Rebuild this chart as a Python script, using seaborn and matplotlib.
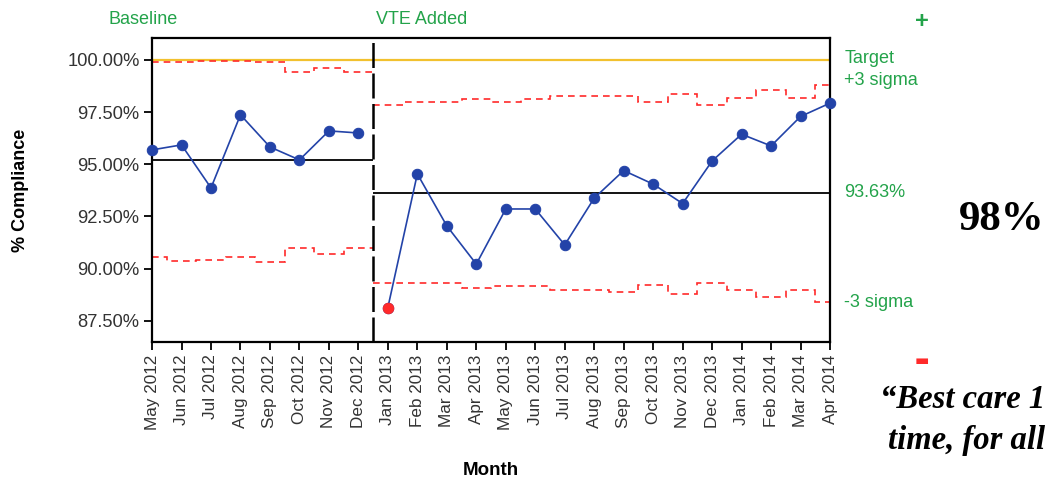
import numpy as np
import pandas as pd
import matplotlib
matplotlib.use("Agg")
import matplotlib.pyplot as plt
import matplotlib.transforms as mtransforms
import seaborn as sns

# data
months = ["May 2012", "Jun 2012", "Jul 2012", "Aug 2012", "Sep 2012", "Oct 2012",
          "Nov 2012", "Dec 2012", "Jan 2013", "Feb 2013", "Mar 2013", "Apr 2013",
          "May 2013", "Jun 2013", "Jul 2013", "Aug 2013", "Sep 2013", "Oct 2013",
          "Nov 2013", "Dec 2013", "Jan 2014", "Feb 2014", "Mar 2014", "Apr 2014"]

baseline_pct = [95.69, 95.93, 93.87, 97.37, 95.83, 95.21, 96.60, 96.50]
vte_pct = [88.14, 94.54, 92.05, 90.22, 92.86, 92.86, 91.14, 93.38,
           94.70, 94.05, 93.12, 95.16, 96.44, 95.88, 97.29, 97.93]

baseline_ucl = [99.89, 99.90, 99.93, 99.93, 99.90, 99.44, 99.60, 99.44]
baseline_lcl = [90.58, 90.36, 90.40, 90.55, 90.34, 90.98, 90.71, 90.98]
vte_ucl = [97.84, 98.00, 98.00, 98.12, 98.00, 98.12, 98.28, 98.28,
           98.28, 97.96, 98.36, 97.84, 98.17, 98.56, 98.19, 98.80]
vte_lcl = [89.31, 89.31, 89.31, 89.07, 89.18, 89.18, 88.98, 88.98,
           88.87, 89.22, 88.79, 89.31, 88.98, 88.66, 88.98, 88.40]

baseline_mean = 95.21
vte_mean = 93.63
target = 100.0

phases = ["Baseline", "VTE Added"]

BLUE = "#2343a8"
RED = "#ff2a2a"
GREEN = "#23a34a"
GOLD = "#f2c12e"

sns.set_style("white")
plt.rcParams["font.family"] = ["Liberation Sans", "DejaVu Sans"]

n_base = len(baseline_pct)
df = pd.DataFrame({
    "idx": np.arange(len(months)),
    "month": months,
    "pct": baseline_pct + vte_pct,
    "ucl": baseline_ucl + vte_ucl,
    "lcl": baseline_lcl + vte_lcl,
    "phase": [phases[0]] * n_base + [phases[1]] * len(vte_pct),
})
df["out"] = (df["pct"] < df["lcl"]) | (df["pct"] > df["ucl"])

fig = plt.figure(figsize=(10.5, 4.82), dpi=100)
ax = fig.add_axes([0.1448, 0.2905, 0.6457, 0.6307])

split = n_base - 0.5
last = len(months) - 1

# target line
ax.axhline(target, color=GOLD, lw=1.6, zorder=2)

# control limits as steps, per phase
for ph, start, end in [(phases[0], 0, split), (phases[1], split, last)]:
    sub = df[df["phase"] == ph]
    edges = np.concatenate([[start], sub["idx"].values[:-1] + 0.5, [end]])
    for col in ["ucl", "lcl"]:
        ax.stairs(sub[col].values, edges, baseline=None, color=RED,
                  lw=1.2, ls=(0, (4, 3)), zorder=2)

# centre lines
ax.hlines(baseline_mean, 0, split, color="black", lw=1.3, zorder=3)
ax.hlines(vte_mean, split, last, color="black", lw=1.3, zorder=3)

# phase divider
ax.axvline(split, color="black", lw=1.8, ls=(0, (10, 2.2)), zorder=4)

# compliance series
sns.lineplot(data=df, x="idx", y="pct", units="phase", estimator=None,
             color=BLUE, lw=1.2, marker="o", markersize=7.5,
             markeredgecolor=BLUE, ax=ax, clip_on=False, zorder=5)
sns.scatterplot(data=df[df["out"]], x="idx", y="pct", color=RED, s=58,
                edgecolor=RED, ax=ax, clip_on=False, zorder=6)

ax.set_xlim(0, last)
ax.set_ylim(86.49, 101.05)
yt = np.arange(87.5, 100.01, 2.5)
ax.set_yticks(yt)
ax.set_yticklabels([f"{v:.2f}%" for v in yt], fontsize=13.2, color="#333333")
ax.set_xticks(df["idx"])
ax.set_xticklabels(months, rotation=90, fontsize=12.3, color="#333333")
ax.tick_params(axis="both", direction="out", length=6, width=1.3,
               color="black", left=True, bottom=True, pad=3)

for s in ax.spines.values():
    s.set_color("black")
    s.set_linewidth(1.6)

ax.set_xlabel("Month", fontsize=13.5, fontweight="bold", color="black")
ax.xaxis.set_label_coords(0.5, -0.395)
ax.set_ylabel("% Compliance", fontsize=13, fontweight="bold", color="black")
ax.yaxis.set_label_coords(-0.182, 0.5)

# phase labels
fig.text(108 / 1050, 1 - 20 / 482, phases[0], color=GREEN, fontsize=13,
         ha="left", va="center")
fig.text(376 / 1050, 1 - 20 / 482, phases[1], color=GREEN, fontsize=13,
         ha="left", va="center")

# right-hand labels at the last values
tr = mtransforms.blended_transform_factory(ax.transAxes, ax.transData)
ax.text(1.021, target + 0.05, "Target", transform=tr, color=GREEN,
        fontsize=13, va="center", ha="left")
ax.text(1.021, vte_ucl[-1] + 0.2, "+3 sigma", transform=tr, color=GREEN,
        fontsize=13, va="center", ha="left")
ax.text(1.021, vte_mean, f"{vte_mean:.2f}%", transform=tr, color=GREEN,
        fontsize=13, va="center", ha="left")
ax.text(1.021, vte_lcl[-1], "-3 sigma", transform=tr, color=GREEN,
        fontsize=13, va="center", ha="left")

fig.text(922 / 1050, 1 - 22 / 482, "+", color=GREEN, fontsize=17,
         fontweight="bold", ha="center", va="center")
fig.text(922 / 1050, 1 - 361 / 482, "\u25ac", color=RED, fontsize=11,
         ha="center", va="center", family=["DejaVu Sans"])

fig.text(0.995, 1 - 220 / 482, "98%", fontsize=31, fontweight="bold",
         color="black", family=["Liberation Serif"], ha="right", va="center")
fig.text(0.995, 1 - 400 / 482, "\u201cBest care 1", fontsize=23.5,
         fontweight="bold", style="italic", color="black",
         family=["Liberation Serif"], ha="right", va="center")
fig.text(0.995, 1 - 440 / 482, "time, for all", fontsize=23.5,
         fontweight="bold", style="italic", color="black",
         family=["Liberation Serif"], ha="right", va="center")

if ax.get_legend() is not None:
    ax.get_legend().remove()

fig.savefig("out.png", dpi=100)
